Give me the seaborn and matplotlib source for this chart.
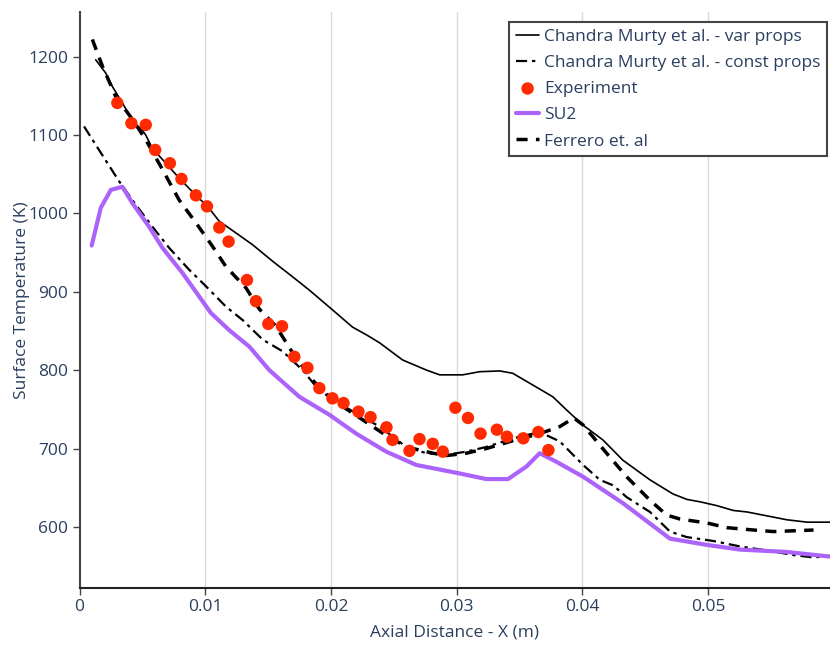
import numpy as np
import pandas as pd
import matplotlib
matplotlib.use("Agg")
import matplotlib.pyplot as plt
import seaborn as sns

# ---- data ----
var_x = [0.00129, 0.00209, 0.00261, 0.00341, 0.00448, 0.00488, 0.00527, 0.0058, 0.00687, 0.00793,
         0.00926, 0.01018, 0.01112, 0.01245, 0.01377, 0.01536, 0.01696, 0.01829, 0.02012, 0.02171,
         0.02283, 0.02386, 0.0257, 0.02761, 0.02865, 0.03048, 0.03183, 0.03343, 0.03446, 0.03606,
         0.03765, 0.03876, 0.04004, 0.04163, 0.04323, 0.04538, 0.04721, 0.04833, 0.04936, 0.05072,
         0.05199, 0.05311, 0.0547, 0.05629, 0.05789, 0.05972]
var_y = [1196, 1179, 1162, 1141, 1111, 1109, 1100, 1083, 1064, 1045,
         1023, 1009, 990, 975, 960, 939, 919, 902, 877, 855,
         845, 835, 813, 800, 794, 794, 798, 799, 796, 781,
         766, 749, 730, 711, 685, 660, 642, 635, 632, 627,
         621, 619, 614, 609, 606, 606]

const_x = [0.00036, 0.00155, 0.00315, 0.00448, 0.0058, 0.00713, 0.00873, 0.01006, 0.01165, 0.01297,
           0.01457, 0.01616, 0.01775, 0.01882, 0.02014, 0.02201, 0.02386, 0.02599, 0.02759, 0.02918,
           0.03077, 0.03237, 0.03449, 0.03661, 0.03821, 0.04006, 0.04139, 0.04245, 0.04352, 0.04538,
           0.04697, 0.0483, 0.05042, 0.05255, 0.05468, 0.0568, 0.05839, 0.05972]
const_y = [1111, 1081, 1041, 1011, 983, 956, 928, 907, 881, 864,
           839, 824, 800, 779, 762, 745, 728, 702, 694, 692,
           696, 702, 713, 721, 709, 679, 660, 653, 638, 619,
           594, 587, 582, 575, 570, 564, 561, 563]

exp_x = [0.00301, 0.00413, 0.00527, 0.00602, 0.00719, 0.00811, 0.00926, 0.01014, 0.01112, 0.01186,
         0.01332, 0.01404, 0.01502, 0.01611, 0.01709, 0.01813, 0.01908, 0.02012, 0.021, 0.02219,
         0.02315, 0.02442, 0.0249, 0.02625, 0.02705, 0.0281, 0.0289, 0.0299, 0.0309, 0.0319,
         0.0332, 0.034, 0.0353, 0.0365, 0.0373]
exp_y = [1141, 1115, 1113, 1081, 1064, 1044, 1023, 1009, 982, 964,
         915, 888, 859, 856, 817, 803, 777, 764, 758, 747,
         740, 727, 711, 697, 712, 706, 696, 752, 739, 719,
         724, 715, 713, 721, 698]

su2_x = [0.00097, 0.00169, 0.00249, 0.00341, 0.00421, 0.00554, 0.0066, 0.00819, 0.00952, 0.01045,
         0.01191, 0.01351, 0.0151, 0.01749, 0.01988, 0.02201, 0.0244, 0.02679, 0.02998, 0.03237,
         0.03409, 0.03555, 0.03661, 0.03794, 0.04006, 0.04325, 0.04697, 0.0499, 0.05255, 0.05627,
         0.05972]
su2_y = [959, 1007, 1030, 1034, 1013, 983, 956, 924, 894, 873,
         851, 830, 800, 766, 743, 719, 696, 679, 669, 661,
         661, 677, 694, 683, 664, 630, 585, 577, 571, 568,
         562]

fer_x = [0.00102, 0.00182, 0.00288, 0.00421, 0.00527, 0.0066, 0.00793, 0.00926, 0.01058, 0.01165,
         0.01324, 0.0143, 0.01563, 0.01696, 0.01855, 0.02014, 0.02174, 0.02333, 0.02492, 0.02652,
         0.02811, 0.02918, 0.03077, 0.03237, 0.03449, 0.03661, 0.03821, 0.03932, 0.04006, 0.04193,
         0.04352, 0.04538, 0.04671, 0.04777, 0.0499, 0.05149, 0.05361, 0.0552, 0.0568, 0.05839]
fer_y = [1222, 1188, 1149, 1120, 1094, 1056, 1017, 988, 958, 932,
         905, 878, 856, 822, 787, 762, 745, 728, 711, 700,
         694, 691, 694, 700, 710, 719, 728, 739, 730, 694,
         664, 634, 615, 610, 605, 599, 596, 594, 595, 596]

x_ticks = [0, 0.01, 0.02, 0.03, 0.04, 0.05]
x_tick_labels = ["0", "0.01", "0.02", "0.03", "0.04", "0.05"]
y_ticks = [600, 700, 800, 900, 1000, 1100, 1200]

sns.set_theme(style="white")
plt.rcParams['font.family'] = ['Open Sans', 'DejaVu Sans']
text_color = "#2a3f5f"

fig = plt.figure(figsize=(8.30, 6.46), dpi=100)
ax = fig.add_axes([79.5 / 830, 1 - 588 / 646, (830 - 79.5) / 830, (588 - 12) / 646])

df_var = pd.DataFrame({"x": var_x, "y": var_y})
df_const = pd.DataFrame({"x": const_x, "y": const_y})
df_exp = pd.DataFrame({"x": exp_x, "y": exp_y})
df_su2 = pd.DataFrame({"x": su2_x, "y": su2_y})
df_fer = pd.DataFrame({"x": fer_x, "y": fer_y})

sns.lineplot(data=df_var, x="x", y="y", ax=ax, sort=False, estimator=None,
             color="black", linewidth=1.2, label="Chandra Murty et al. - var props")
sns.lineplot(data=df_const, x="x", y="y", ax=ax, sort=False, estimator=None,
             color="black", linewidth=1.6, linestyle=(0, (5, 2.2, 1.5, 2.2)),
             label="Chandra Murty et al. - const props")
sns.scatterplot(data=df_exp, x="x", y="y", ax=ax, color="#ff2a00", s=80,
                edgecolor="none", label="Experiment", zorder=5)
sns.lineplot(data=df_su2, x="x", y="y", ax=ax, sort=False, estimator=None,
             color="#ab63fa", linewidth=3, label="SU2")
sns.lineplot(data=df_fer, x="x", y="y", ax=ax, sort=False, estimator=None,
             color="black", linewidth=2.5, linestyle=(0, (3.2, 2.4)), label="Ferrero et. al")

ax.set_xlim(0, 0.0597)
ax.set_ylim(522, 1257)
ax.set_xticks(x_ticks)
ax.set_xticklabels(x_tick_labels)
ax.set_yticks(y_ticks)
ax.set_yticklabels([str(v) for v in y_ticks])

ax.grid(False)
for xv in x_ticks[1:]:
    ax.axvline(xv, color="#d9d9d9", linewidth=1, zorder=0)

for s in ["top", "right"]:
    ax.spines[s].set_visible(False)
ax.spines["left"].set_color("#444444")
ax.spines["left"].set_linewidth(1.5)
ax.spines["bottom"].set_color("#222222")
ax.spines["bottom"].set_linewidth(1.5)

ax.tick_params(axis="both", which="both", direction="out", length=5, width=1,
               color="#444444", labelsize=12.5, labelcolor=text_color, pad=3, left=True, bottom=True)

ax.set_xlabel("Axial Distance - X (m)", fontsize=12.5, color=text_color, labelpad=7)
ax.set_ylabel("Surface Temperature (K)", fontsize=12.5, color=text_color)
ax.yaxis.set_label_coords(-0.066, 0.5)

leg = ax.legend(loc="upper right", bbox_to_anchor=(1.0, 0.988), fontsize=12.5,
                frameon=True, fancybox=False, framealpha=1, edgecolor="#444444",
                handlelength=1.3, handletextpad=0.3, labelspacing=0.58, borderpad=0.4,
                borderaxespad=0.15)
leg.get_frame().set_linewidth(1.5)
for t in leg.get_texts():
    t.set_color(text_color)

fig.savefig("out.png", dpi=100, facecolor="white")
